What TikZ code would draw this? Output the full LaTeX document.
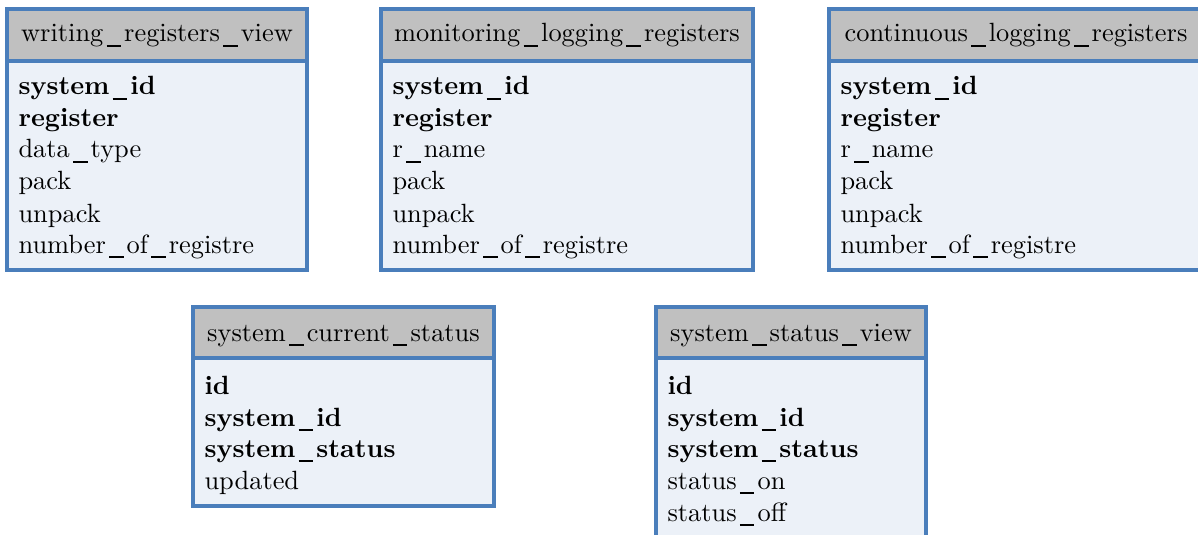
\documentclass[tikz,border=0pt]{standalone}
\usetikzlibrary{fit}
\definecolor{bordc}{RGB}{74,126,187}
\definecolor{hdrc}{RGB}{192,192,192}
\definecolor{bodyc}{RGB}{236,241,248}
\newcommand{\us}{\kern0.12em\rule[-0.2em]{0.55em}{0.07em}\kern0.12em}
\tikzset{
  hdr/.style={draw=bordc, fill=hdrc, line width=1.1pt, inner sep=0pt, rectangle},
  bodybox/.style={draw=bordc, fill=bodyc, line width=1.1pt, inner sep=0pt, rectangle},
  htext/.style={anchor=base, inner sep=0pt, font=\fontsize{9.5}{11.4}\selectfont},
  ktext/.style={anchor=base west, inner sep=0pt, font=\fontsize{9.5}{11.4}\selectfont\bfseries},
  rtext/.style={anchor=base west, inner sep=0pt, font=\fontsize{9.5}{11.4}\selectfont},
}
\begin{document}
\begin{tikzpicture}[x=0.36pt,y=-0.36pt]
\useasboundingbox (0,0) rectangle (1198,535);
\clip (0,0) rectangle (1198,535);
% Box 1
\node[bodybox, fit={(7,61)(307,270)}] (b1) {};
\node[hdr, fit={(7,9)(307,61)}] (h1) {};
\node[htext] (h1t) at (157,42) {writing\us registers\us view};
\node[ktext] (b1r1) at (18,95) {system\us id};
\node[ktext] (b1r2) at (18,127) {register};
\node[rtext] (b1r3) at (18,158) {data\us type};
\node[rtext] (b1r4) at (18,190) {pack};
\node[rtext] (b1r5) at (18,222) {unpack};
\node[rtext] (b1r6) at (18,253) {number\us of\us registre};
% Box 2
\node[bodybox, fit={(381,61)(753,270)}] (b2) {};
\node[hdr, fit={(381,9)(753,61)}] (h2) {};
\node[htext] (h2t) at (567,42) {monitoring\us logging\us registers};
\node[ktext] (b2r1) at (392,95) {system\us id};
\node[ktext] (b2r2) at (392,127) {register};
\node[rtext] (b2r3) at (392,158) {r\us name};
\node[rtext] (b2r4) at (392,190) {pack};
\node[rtext] (b2r5) at (392,222) {unpack};
\node[rtext] (b2r6) at (392,253) {number\us of\us registre};
% Box 3
\node[bodybox, fit={(829,61)(1202,270)}] (b3) {};
\node[hdr, fit={(829,9)(1202,61)}] (h3) {};
\node[htext] (h3t) at (1016,42) {continuous\us logging\us registers};
\node[ktext] (b3r1) at (840,95) {system\us id};
\node[ktext] (b3r2) at (840,127) {register};
\node[rtext] (b3r3) at (840,158) {r\us name};
\node[rtext] (b3r4) at (840,190) {pack};
\node[rtext] (b3r5) at (840,222) {unpack};
\node[rtext] (b3r6) at (840,253) {number\us of\us registre};
% Box 4
\node[bodybox, fit={(193,358)(494,506)}] (b4) {};
\node[hdr, fit={(193,307)(494,358)}] (h4) {};
\node[htext] (h4t) at (343.5,341) {system\us current\us status};
\node[ktext] (b4r1) at (204,394) {id};
\node[ktext] (b4r2) at (204,426) {system\us id};
\node[ktext] (b4r3) at (204,457) {system\us status};
\node[rtext] (b4r4) at (204,489) {updated};
% Box 5
\node[bodybox, fit={(656,358)(926,560)}] (b5) {};
\node[hdr, fit={(656,307)(926,358)}] (h5) {};
\node[htext] (h5t) at (791,341) {system\us status\us view};
\node[ktext] (b5r1) at (667,394) {id};
\node[ktext] (b5r2) at (667,426) {system\us id};
\node[ktext] (b5r3) at (667,457) {system\us status};
\node[rtext] (b5r4) at (667,489) {status\us on};
\node[rtext] (b5r5) at (667,521) {status\us off};
\end{tikzpicture}
\end{document}
